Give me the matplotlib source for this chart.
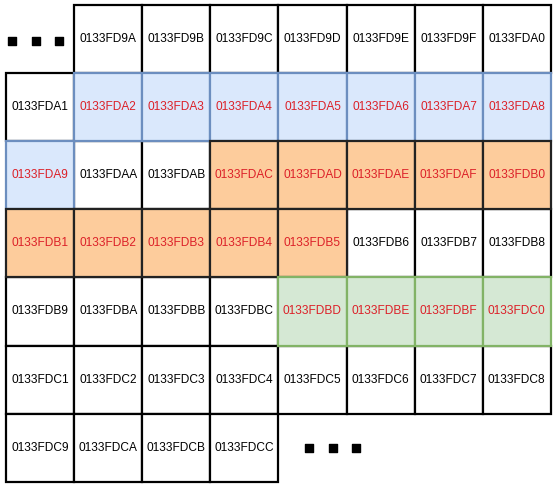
import matplotlib.pyplot as plt
from matplotlib.patches import Rectangle

plt.rcParams['font.family'] = ['Liberation Sans', 'DejaVu Sans']

# memory addresses, row by row (None = no cell)
start = 0x0133FD9A
rows = [
    [None] + [start + i for i in range(7)],
    [start + 7 + i for i in range(8)],
    [start + 15 + i for i in range(8)],
    [start + 23 + i for i in range(8)],
    [start + 31 + i for i in range(8)],
    [start + 39 + i for i in range(8)],
    [start + 47 + i for i in range(4)] + [None] * 4,
]
blue = ['0133FDA2', '0133FDA3', '0133FDA4', '0133FDA5', '0133FDA6', '0133FDA7', '0133FDA8', '0133FDA9']
orange = ['0133FDAC', '0133FDAD', '0133FDAE', '0133FDAF', '0133FDB0',
          '0133FDB1', '0133FDB2', '0133FDB3', '0133FDB4', '0133FDB5']
green = ['0133FDBD', '0133FDBE', '0133FDBF', '0133FDC0']

styles = {
    'white': ('white', 'black', 'black'),
    'blue': ('#dae8fc', '#6c8ebf', '#dc2028'),
    'orange': ('#fdcc9c', '#222222', '#dc2028'),
    'green': ('#d5e8d4', '#82b366', '#dc2028'),
}

fig = plt.figure(figsize=(5.56, 4.88), dpi=100)
ax = fig.add_axes([0, 0, 1, 1])
ax.set_xlim(0, 556)
ax.set_ylim(488, 0)
ax.axis('off')

x0, y0, cs = 6, 5, 68.1

cells = []
for r, row in enumerate(rows):
    for c, v in enumerate(row):
        if v is None:
            continue
        name = '%08X' % v
        kind = 'white'
        if name in blue:
            kind = 'blue'
        elif name in orange:
            kind = 'orange'
        elif name in green:
            kind = 'green'
        cells.append((r, c, name, kind))

order = ['white', 'blue', 'orange', 'green']
for kind in order:
    for r, c, name, k in cells:
        if k != kind:
            continue
        fc, ec, tc = styles[k]
        ax.add_patch(Rectangle((x0 + c * cs, y0 + r * cs), cs, cs,
                               facecolor=fc, edgecolor=ec, linewidth=1.6, zorder=2))
        ax.text(x0 + (c + 0.5) * cs, y0 + (r + 0.5) * cs, name, color=tc,
                fontsize=8.6, ha='center', va='center', zorder=3)

# ellipsis squares
dots_x = [11.5, 36, 59]
ax.scatter(dots_x, [41] * 3, marker='s', s=30, color='black', zorder=3)
dots_x2 = [309, 333, 356]
ax.scatter(dots_x2, [448] * 3, marker='s', s=30, color='black', zorder=3)

fig.savefig('out.png', dpi=100)
